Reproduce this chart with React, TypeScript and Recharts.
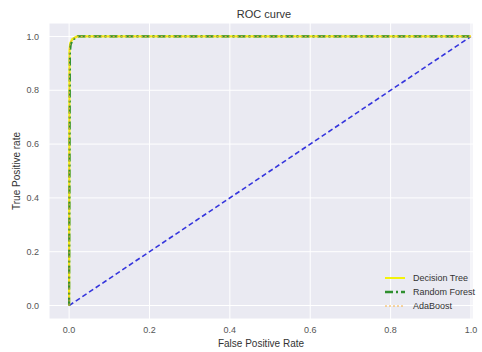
import { LineChart, Line, XAxis, YAxis, CartesianGrid } from 'recharts';

// ROC points
const dtFpr = [0, 0.001, 0.003, 0.008, 0.02, 1];
const dtTpr = [0, 0.95, 0.975, 0.99, 1, 1];
const rfFpr = [0, 0.002, 0.004, 0.009, 0.022, 1];
const rfTpr = [0, 0.94, 0.97, 0.988, 1, 1];
const abFpr = [0, 0.001, 0.004, 0.01, 0.02, 1];
const abTpr = [0, 0.96, 0.98, 0.992, 1, 1];
const diagFpr = [0, 1];
const diagTpr = [0, 1];

const ticks = [0, 0.2, 0.4, 0.6, 0.8, 1.0];

const toPoints = (xs: number[], ys: number[]) => xs.map((x, i) => ({ x, y: ys[i] }));

const legendItems = [
  { name: 'Decision Tree', color: '#f2f20a', dash: undefined as string | undefined, width: 2 },
  { name: 'Random Forest', color: '#2f8f2f', dash: '8 3 2 3', width: 2.5 },
  { name: 'AdaBoost', color: '#f5b040', dash: '2 2', width: 1 },
];

const font = '"Liberation Sans", Arial, sans-serif';

function RocLegend() {
  return (
    <div style={{ fontFamily: font, fontSize: 9, color: '#333', lineHeight: '14px' }}>
      {legendItems.map((it) => (
        <div key={it.name} style={{ display: 'flex', alignItems: 'center' }}>
          <svg width={26} height={8} style={{ marginRight: 2 }}>
            <line x1={0} y1={4} x2={20} y2={4} stroke={it.color} strokeWidth={it.width} strokeDasharray={it.dash} />
          </svg>
          <span>{it.name}</span>
        </div>
      ))}
    </div>
  );
}

const tickStyle = { fill: '#555', fontSize: 9, fontFamily: font };

export default function App() {
  return (
    <div style={{ position: 'absolute', left: 0, top: 0, width: 482, height: 352, background: '#fff', overflow: 'hidden' }}>
      <div
        style={{
          position: 'absolute',
          top: 8,
          left: 49,
          width: 430,
          textAlign: 'center',
          fontFamily: font,
          fontSize: 11,
          color: '#333',
        }}
      >
        ROC curve
      </div>
      <LineChart width={482} height={352} margin={{ top: 23, right: 9, left: 0, bottom: 0 }}>
        <CartesianGrid fill="#eaeaf2" stroke="#fff" strokeWidth={1} />
        <XAxis
          type="number"
          dataKey="x"
          domain={[-0.05, 1.005]}
          ticks={ticks}
          tickFormatter={(v: number) => v.toFixed(1)}
          axisLine={false}
          tickLine={false}
          tick={tickStyle}
          height={33}
          tickMargin={2}
          label={{ value: 'False Positive Rate', position: 'insideBottom', offset: 5, fill: '#333', fontSize: 10, fontFamily: font }}
        />
        <YAxis
          type="number"
          dataKey="y"
          domain={[-0.05, 1.05]}
          ticks={ticks}
          tickFormatter={(v: number) => v.toFixed(1)}
          axisLine={false}
          tickLine={false}
          tick={tickStyle}
          width={49}
          tickMargin={4}
          label={{ value: 'True Positive rate', angle: -90, position: 'insideLeft', offset: 16, fill: '#333', fontSize: 10, fontFamily: font, style: { textAnchor: 'middle' } }}
        />
        <Line
          data={toPoints(diagFpr, diagTpr)}
          dataKey="y"
          stroke="#3535dd"
          strokeWidth={1.6}
          strokeDasharray="5 3"
          dot={false}
          isAnimationActive={false}
        />
        <Line data={toPoints(dtFpr, dtTpr)} dataKey="y" name="Decision Tree" stroke="#f2f20a" strokeWidth={2.2} dot={false} isAnimationActive={false} />
        <Line data={toPoints(rfFpr, rfTpr)} dataKey="y" name="Random Forest" stroke="#2f8f2f" strokeWidth={2.2} strokeDasharray="8 3 2 3" dot={false} isAnimationActive={false} />
        <Line data={toPoints(abFpr, abTpr)} dataKey="y" name="AdaBoost" stroke="#f5b040" strokeWidth={1} strokeDasharray="2 2" dot={false} isAnimationActive={false} />
      </LineChart>
      <div style={{ position: 'absolute', left: 385, top: 271 }}>
        <RocLegend />
      </div>
    </div>
  );
}
